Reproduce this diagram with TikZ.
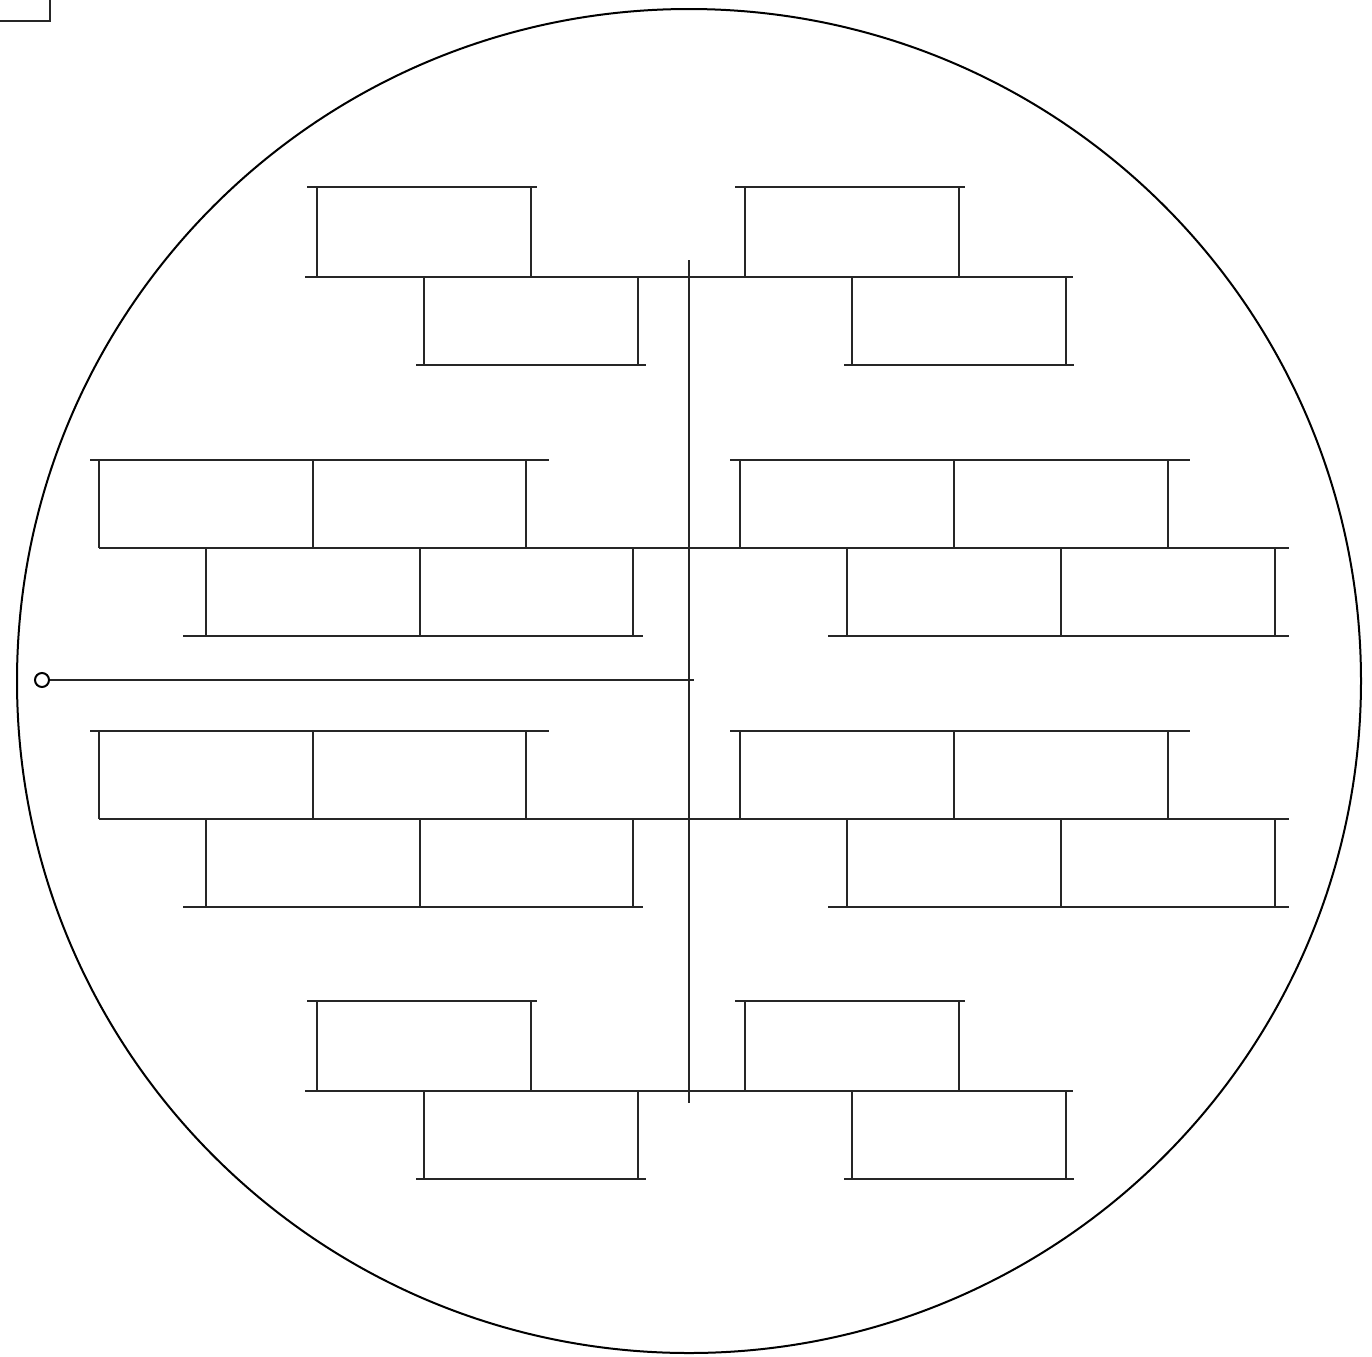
\documentclass[tikz,border=0pt]{standalone}
\begin{document}
\begin{tikzpicture}[x=0.5pt,y=-0.5pt,
  ln/.style={line width=0.7pt,black!85},
  rim/.style={line width=1pt,black}]
\useasboundingbox (0,0) rectangle (1372,1356);
% corner box
\draw[ln] (0,21) -- (50,21) -- (50,0);
% big circle
\draw[rim] (689,681) circle (672);
% axes
\draw[ln] (689,260) -- (689,1103);
\node[draw,circle,line width=1pt,inner sep=0pt,minimum size=7pt] (o) at (42,680) {};
\coordinate (hend) at (694,680);
\draw[ln] (o.east) -- (hend);
% top and bottom groups (two bricks each side)
\foreach \dy in {0,814}{
  \draw[ln] (305,277+\dy) -- (1073,277+\dy);
  \foreach \dx in {0,428}{
    \draw[ln] (307+\dx,187+\dy) -- (537+\dx,187+\dy);
    \draw[ln] (317+\dx,187+\dy) -- (317+\dx,277+\dy);
    \draw[ln] (531+\dx,187+\dy) -- (531+\dx,277+\dy);
    \draw[ln] (424+\dx,277+\dy) -- (424+\dx,365+\dy);
    \draw[ln] (638+\dx,277+\dy) -- (638+\dx,365+\dy);
    \draw[ln] (416+\dx,365+\dy) -- (646+\dx,365+\dy);
  }
}
% middle groups (four bricks each side)
\foreach \dy in {0,271}{
  \draw[ln] (99,548+\dy) -- (1289,548+\dy);
  % left
  \draw[ln] (90,460+\dy) -- (549,460+\dy);
  \foreach \x in {99,313,526} \draw[ln] (\x,460+\dy) -- (\x,548+\dy);
  \foreach \x in {206,420,633} \draw[ln] (\x,548+\dy) -- (\x,636+\dy);
  \draw[ln] (183,636+\dy) -- (643,636+\dy);
  % right
  \draw[ln] (730,460+\dy) -- (1190,460+\dy);
  \foreach \x in {740,954,1168} \draw[ln] (\x,460+\dy) -- (\x,548+\dy);
  \foreach \x in {847,1061,1275} \draw[ln] (\x,548+\dy) -- (\x,636+\dy);
  \draw[ln] (828,636+\dy) -- (1289,636+\dy);
}
\end{tikzpicture}
\end{document}
